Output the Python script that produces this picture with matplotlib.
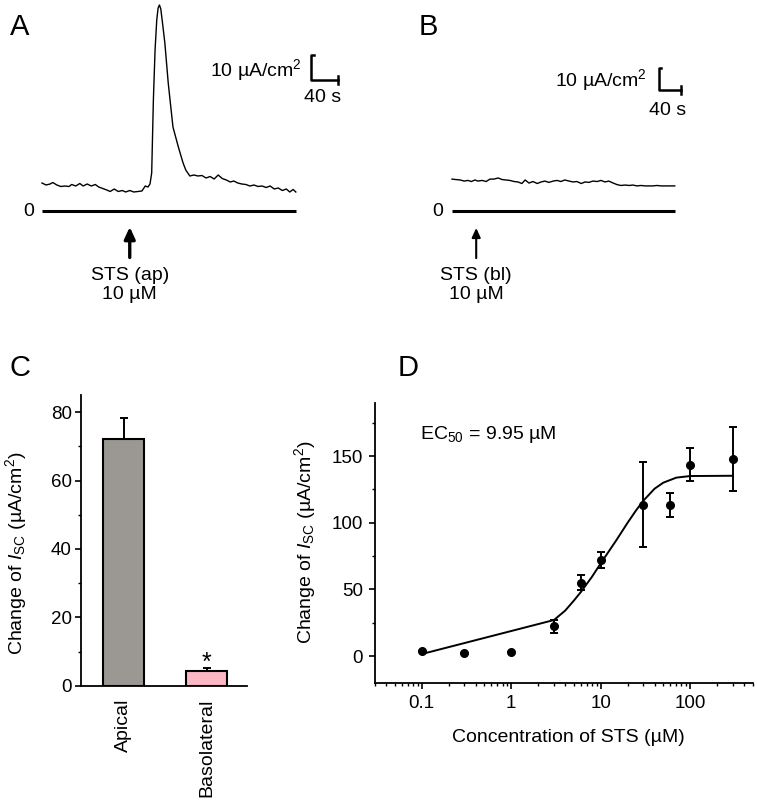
import matplotlib
matplotlib.use("Agg")
import matplotlib.pyplot as plt
from matplotlib.ticker import FuncFormatter, FixedLocator, MultipleLocator, LogLocator, NullFormatter

plt.rcParams['font.family'] = ['Liberation Sans', 'DejaVu Sans']
plt.rcParams['mathtext.fontset'] = 'custom'
plt.rcParams['mathtext.rm'] = 'Liberation Sans'
plt.rcParams['mathtext.it'] = 'Liberation Sans:italic'
plt.rcParams['axes.linewidth'] = 1.3

# ---- data ----
# A: apical STS trace (time s, Isc uA/cm2)
a_t = [0, 6, 12, 16, 22, 28, 34, 40, 44, 50, 56, 61, 67, 73, 79, 84, 90, 96, 101, 107,
       113, 119, 124, 130, 136, 142, 148, 153, 157, 160, 162.5, 165, 167.5, 170, 172, 174, 176, 178, 182, 187,
       194, 202, 209, 213, 219, 225, 231, 237, 243, 249, 255, 261, 267, 273, 279, 284, 290, 296, 302, 308,
       314, 320, 326, 332, 338, 344, 350, 356, 362, 367, 372, 376]
a_i = [11.2, 10.4, 10.8, 11.4, 10.4, 9.8, 10.0, 9.8, 10.6, 10.0, 11.0, 10.0, 10.8, 10.0, 10.6, 9.6, 9.0, 8.4, 7.8, 8.8,
       7.8, 8.2, 7.6, 8.2, 7.6, 7.8, 8.0, 10.0, 9.6, 10.8, 15.2, 44.4, 64.4, 76.4, 81.2, 82.4, 80.8, 76.4, 67.2, 51.2,
       33.6, 25.6, 19.2, 16.4, 14.0, 14.4, 14.0, 14.2, 13.2, 13.8, 12.8, 14.4, 13.0, 12.4, 11.6, 12.0, 11.2, 10.8, 10.6, 10.0,
       10.4, 9.8, 10.0, 9.4, 10.0, 8.8, 9.2, 8.2, 8.8, 7.6, 8.6, 7.6]
a_stim = 130

# B: basolateral STS trace
b_t = [0, 7, 15, 22, 29, 35, 42, 47, 55, 62, 69, 76, 84, 91, 98, 105, 113, 120, 127, 133,
       140, 147, 155, 162, 169, 176, 184, 191, 198, 205, 213, 220, 227, 235, 242, 249, 256, 264, 271, 278,
       285, 293, 300, 307, 315, 322, 329, 336, 344, 351, 358, 365, 373, 380, 387, 395, 402, 405]
b_i = [14.5, 14.3, 14.1, 13.6, 13.9, 13.4, 14.1, 13.6, 13.9, 13.4, 14.5, 14.5, 15.0, 14.3, 14.1, 13.9, 13.4, 13.2, 12.5, 14.1,
       12.7, 13.4, 12.5, 13.2, 13.6, 13.0, 13.6, 13.9, 13.4, 14.1, 13.6, 13.2, 13.4, 12.5, 13.2, 13.0, 13.6, 13.4, 13.9, 13.2,
       13.6, 12.7, 12.0, 11.6, 11.8, 11.6, 11.8, 11.4, 11.6, 11.4, 11.4, 11.4, 11.6, 11.4, 11.4, 11.4, 11.4, 11.4]
b_stim = 44

# C: bar chart
sides = ['Apical', 'Basolateral']
side_mean = [72, 4.3]
side_sem = [6.2, 0.8]
bar_colors = ['#9b9893', '#fbb7c3']

# D: dose response
conc = [0.1, 0.3, 1, 3, 6, 10, 30, 60, 100, 300]
resp = [3.5, 2.0, 3.0, 22.4, 54.8, 72, 113.5, 113.3, 143.5, 148]
resp_err = [0, 0, 0, 5, 5.6, 6, 32, 8.8, 12.5, 24]
fit_x = [0.1, 3, 4, 5, 6, 8, 10, 15, 20, 25, 30, 40, 50, 70, 100, 300]
fit_y = [1.5, 27, 34, 41.5, 48, 59.5, 69.5, 87, 100, 109.5, 116.5, 125.5, 130, 133.8, 135, 135.2]

W, H = 757, 810
fig = plt.figure(figsize=(W / 100, H / 100), dpi=100)


def px_axes(x0, y0, x1, y1):
    return fig.add_axes([x0 / W, 1 - y1 / H, (x1 - x0) / W, (y1 - y0) / H])


# ---------- A ----------
axA = px_axes(0, 0, 380, 300)
axA.set_xlim(-62.2, 500.7)
axA.set_ylim(-35.6, 84.4)
axA.axis('off')
axA.plot(a_t, a_i, color='black', lw=1.0)
axA.plot([0, 376], [0, 0], color='black', lw=2.2, solid_capstyle='butt')
axA.text(-20, 0, '0', ha='center', va='center', fontsize=14)
axA.annotate('', xy=(a_stim, -6.4), xytext=(a_stim, -18.6),
             arrowprops=dict(arrowstyle='-|>,head_length=0.5,head_width=0.23', lw=2.4,
                             color='black', mutation_scale=14, shrinkA=0, shrinkB=0))
axA.text(a_stim, -22.5, 'STS (ap)\n10 µM', ha='center', va='top', fontsize=14, linespacing=1.15)
# scale bar 10 uA/cm2 x 40 s
sx, sy = 398.5, 52.4
axA.plot([sx + 4, sx, sx, sx + 40], [sy + 10, sy + 10, sy, sy], color='black', lw=1.8)
axA.plot([sx + 40, sx + 40], [sy - 1.6, sy + 1.6], color='black', lw=1.8)
axA.text(sx - 13, sy + 4, '10 µA/cm$^2$', ha='right', va='center', fontsize=14)
axA.text(sx + 17, sy - 7, '40 s', ha='center', va='center', fontsize=14)
fig.text(20 / W, 1 - 27 / H, 'A', ha='center', va='center', fontsize=21)

# ---------- B ----------
axB = px_axes(380, 0, 757, 300)
axB.set_xlim(-130.9, 554.5)
axB.set_ylim(-40.45, 95.9)
axB.axis('off')
axB.plot(b_t, b_i, color='black', lw=1.0)
axB.plot([0, 405.5], [0, 0], color='black', lw=2.2, solid_capstyle='butt')
axB.text(-25.5, 0, '0', ha='center', va='center', fontsize=14)
axB.annotate('', xy=(b_stim, -7.7), xytext=(b_stim, -21.4),
             arrowprops=dict(arrowstyle='-|>,head_length=0.5,head_width=0.23', lw=1.5,
                             color='black', mutation_scale=11, shrinkA=0, shrinkB=0))
axB.text(b_stim, -25.5, 'STS (bl)\n10 µM', ha='center', va='top', fontsize=14, linespacing=1.15)
sx, sy = 376.4, 55
axB.plot([sx + 4, sx, sx, sx + 40], [sy + 10, sy + 10, sy, sy], color='black', lw=1.8)
axB.plot([sx + 40, sx + 40], [sy - 1.8, sy + 1.8], color='black', lw=1.8)
axB.text(sx - 22, sy + 4.5, '10 µA/cm$^2$', ha='right', va='center', fontsize=14)
axB.text(sx + 16, sy - 9.5, '40 s', ha='center', va='center', fontsize=14)
fig.text(428 / W, 1 - 27 / H, 'B', ha='center', va='center', fontsize=21)

# ---------- C ----------
axC = px_axes(81, 395, 247, 685.7)
pos = [1, 2]
axC.bar(pos, side_mean, width=0.5, color=bar_colors, edgecolor='black', linewidth=1.5, zorder=2)
axC.errorbar(pos, side_mean, yerr=[[0, 0], side_sem], fmt='none', ecolor='black',
             elinewidth=1.4, capsize=3, capthick=1.4, zorder=1)
axC.text(2, 6.6, '*', ha='center', va='center', fontsize=18)
axC.set_xlim(0.484, 2.489)
axC.set_ylim(0, 85)
axC.yaxis.set_major_locator(MultipleLocator(20))
axC.yaxis.set_minor_locator(MultipleLocator(10))
axC.set_xticks(pos)
axC.set_xticklabels(sides, rotation=90, va='top', fontsize=14)
axC.tick_params(axis='x', length=0, pad=9)
axC.tick_params(axis='y', which='major', direction='out', length=4.5, width=1.2, labelsize=13.5, pad=2)
axC.tick_params(axis='y', which='minor', direction='out', length=2.5, width=1.0)
for s in ['top', 'right']:
    axC.spines[s].set_visible(False)
axC.set_ylabel(r'Change of $I_{\mathrm{SC}}$ (µA/cm$^2$)', fontsize=14, va='center')
axC.yaxis.set_label_coords(-0.39, 0.455)
fig.text(20 / W, 1 - 368 / H, 'C', ha='center', va='center', fontsize=21)

# ---------- D ----------
axD = px_axes(375, 402.7, 752.7, 682.7)
axD.set_xscale('log')
axD.plot(fit_x, fit_y, color='black', lw=1.4, zorder=2)
axD.errorbar(conc, resp, yerr=resp_err, fmt='o', color='black', ms=5.5,
             elinewidth=1.4, capsize=3.2, capthick=1.4, zorder=3)
axD.set_xlim(0.03, 500)
axD.set_ylim(-20, 190)
axD.xaxis.set_major_locator(FixedLocator([0.1, 1, 10, 100]))
axD.xaxis.set_major_formatter(FuncFormatter(lambda v, p: '{:g}'.format(v)))
axD.xaxis.set_minor_locator(LogLocator(base=10, subs=range(2, 10)))
axD.xaxis.set_minor_formatter(NullFormatter())
axD.yaxis.set_major_locator(FixedLocator([0, 50, 100, 150]))
axD.yaxis.set_minor_locator(FixedLocator([25, 75, 125, 175]))
axD.tick_params(which='major', direction='out', length=4.5, width=1.2, labelsize=13.5, pad=4)
axD.tick_params(which='minor', direction='out', length=2.5, width=1.0)
for s in ['top', 'right']:
    axD.spines[s].set_visible(False)
axD.text(0.118, 0.885, r'EC$_{50}$ = 9.95 µM', transform=axD.transAxes, ha='left', va='center', fontsize=14)
axD.set_ylabel(r'Change of $I_{\mathrm{SC}}$ (µA/cm$^2$)', fontsize=14, va='center')
axD.yaxis.set_label_coords(-0.185, 0.5)
axD.set_xlabel('Concentration of STS (µM)', fontsize=14, va='center')
axD.xaxis.set_label_coords(0.511, -0.194)
fig.text(408 / W, 1 - 368 / H, 'D', ha='center', va='center', fontsize=21)

fig.savefig('out.png', dpi=100)
